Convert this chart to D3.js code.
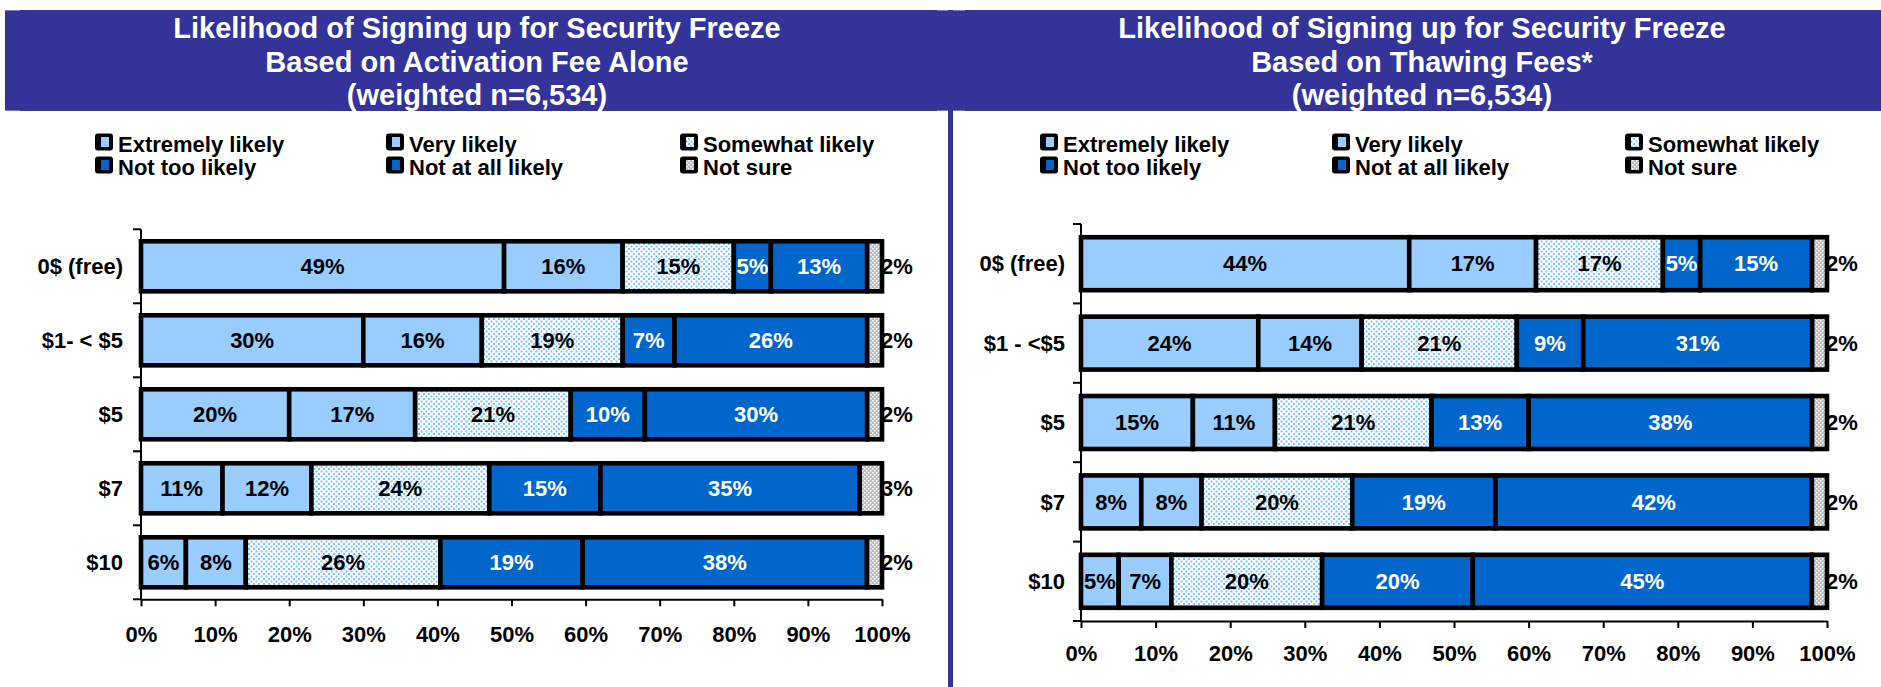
<!DOCTYPE html>
<html>
<head>
<meta charset="utf-8">
<script src="https://cdn.jsdelivr.net/npm/d3@7"></script>
<style>
  html, body { margin: 0; padding: 0; background: #fff; }
  svg { display: block; }
  text { font-family: "Liberation Sans", Arial, Helvetica, sans-serif; font-weight: bold; }
</style>
</head>
<body>
<svg id="chart" width="1881" height="687"></svg>
<script>
// ---- data ----
const feeCategoriesActivation = ["0$ (free)", "$1- < $5", "$5", "$7", "$10"];
const feeCategoriesThawing = ["0$ (free)", "$1 - <$5", "$5", "$7", "$10"];
const responses = ["Extremely likely", "Very likely", "Somewhat likely", "Not too likely", "Not at all likely", "Not sure"];

// percentages per fee level, in the order of `responses`
const activationValues = [
  [49, 16, 15, 5, 13, 2],
  [30, 16, 19, 7, 26, 2],
  [20, 17, 21, 10, 30, 2],
  [11, 12, 24, 15, 35, 3],
  [6, 8, 26, 19, 38, 2]
];
const thawingValues = [
  [44, 17, 17, 5, 15, 2],
  [24, 14, 21, 9, 31, 2],
  [15, 11, 21, 13, 38, 2],
  [8, 8, 20, 19, 42, 2],
  [5, 7, 20, 20, 45, 2]
];

const tickValues = [0, 0.1, 0.2, 0.3, 0.4, 0.5, 0.6, 0.7, 0.8, 0.9, 1];

const titleActivation = ["Likelihood of Signing up for Security Freeze", "Based on Activation Fee Alone", "(weighted n=6,534)"];
const titleThawing = ["Likelihood of Signing up for Security Freeze", "Based on Thawing Fees*", "(weighted n=6,534)"];

// ---- styling ----
const NAVY = "#333399";
const LIGHT_BLUE = "#99CCFF";
const DARK_BLUE = "#0066CC";

const svg = d3.select("#chart");
const defs = svg.append("defs");

// dotted fill for "Somewhat likely"
const dots = defs.append("pattern").attr("id", "blueDots")
  .attr("patternUnits", "userSpaceOnUse").attr("width", 5).attr("height", 5);
dots.append("rect").attr("width", 5).attr("height", 5).attr("fill", "#fff");
dots.append("rect").attr("x", 0.5).attr("y", 0.5).attr("width", 2).attr("height", 2).attr("fill", "#80BFFF");
dots.append("rect").attr("x", 3).attr("y", 3).attr("width", 2).attr("height", 2).attr("fill", "#80BFFF");

// speckled grey for "Not sure"
const grey = defs.append("pattern").attr("id", "greyDots")
  .attr("patternUnits", "userSpaceOnUse").attr("width", 4).attr("height", 4);
grey.append("rect").attr("width", 4).attr("height", 4).attr("fill", "#BDBDBD");
grey.append("rect").attr("x", 0).attr("y", 0).attr("width", 1.5).attr("height", 1.5).attr("fill", "#fff");
grey.append("rect").attr("x", 2).attr("y", 2).attr("width", 1.5).attr("height", 1.5).attr("fill", "#fff");

const fills = [LIGHT_BLUE, LIGHT_BLUE, "url(#blueDots)", DARK_BLUE, DARK_BLUE, "url(#greyDots)"];
const labelColors = ["#000", "#000", "#000", "#fff", "#fff", "#000"];

// ---- header band and divider ----
svg.append("rect").attr("x", 5).attr("y", 10).attr("width", 1876).attr("height", 101).attr("fill", NAVY);
svg.append("rect").attr("x", 948).attr("y", 10).attr("width", 5).attr("height", 677).attr("fill", NAVY);
[[5, 20], [937, 948], [953, 965]].forEach(([a, b]) => {
  [10.5, 110.5].forEach(yy => {
    svg.append("line").attr("x1", a).attr("x2", b).attr("y1", yy).attr("y2", yy)
      .attr("stroke", "#7C7CBC").attr("stroke-width", 1);
  });
});

const panels = [
  {
    cats: feeCategoriesActivation, values: activationValues, title: titleActivation,
    x0: 141, x1: 882, y0: 229.3, y1: 599.3, pad: 0.324,
    labelRight: 123, tickLabelDy: 42.4, titleCx: 477, legendX: [118, 409, 703]
  },
  {
    cats: feeCategoriesThawing, values: thawingValues, title: titleThawing,
    x0: 1081, x1: 1827, y0: 224, y1: 621, pad: 0.333,
    labelRight: 1065, tickLabelDy: 39.7, titleCx: 1422, legendX: [1063, 1355, 1648]
  }
];

panels.forEach(p => {
  const g = svg.append("g");

  // title
  const titleBaselines = [38, 71.5, 104.5];
  p.title.forEach((line, i) => {
    g.append("text").attr("x", p.titleCx).attr("y", titleBaselines[i])
      .attr("text-anchor", "middle").attr("fill", "#fff")
      .attr("font-size", 29).text(line);
  });

  // legend: three columns, two rows
  const legendBaselines = [152, 175];
  responses.forEach((r, i) => {
    const col = i % 3, row = Math.floor(i / 3);
    const tx = p.legendX[col], ty = legendBaselines[row];
    const sx = tx - 23, sy = ty - 18.5;
    g.append("rect").attr("x", sx).attr("y", sy).attr("width", 18).attr("height", 17)
      .attr("rx", 3).attr("fill", "#000");
    g.append("rect").attr("x", sx + 6).attr("y", sy + 3.5).attr("width", 8).attr("height", 10)
      .attr("fill", fills[i]);
    g.append("text").attr("x", tx).attr("y", ty).attr("font-size", 22).attr("fill", "#000").text(r);
  });

  // scales
  const x = d3.scaleLinear().domain([0, 1]).range([p.x0, p.x1]);
  const y = d3.scaleBand().domain(p.cats).range([p.y0, p.y1])
    .paddingInner(p.pad).paddingOuter(p.pad / 2);
  const gapHalf = (y.step() - y.bandwidth()) / 2;

  // x axis
  const xAxis = d3.axisBottom(x).tickValues(tickValues).tickSize(7).tickSizeOuter(0)
    .tickFormat(d3.format(".0%"));
  const ax = g.append("g").attr("transform", `translate(0,${p.y1})`).call(xAxis);
  ax.select(".domain").attr("stroke", "#000").attr("stroke-width", 2);
  ax.selectAll(".tick line").attr("stroke", "#000").attr("stroke-width", 2);
  ax.selectAll(".tick text").attr("y", p.tickLabelDy).attr("dy", null)
    .attr("font-size", 22).attr("fill", "#000")
    .attr("font-family", "'Liberation Sans', Arial, sans-serif").attr("font-weight", "bold");

  // y axis line and ticks at band boundaries
  g.append("line").attr("x1", p.x0).attr("x2", p.x0).attr("y1", p.y0).attr("y2", p.y1)
    .attr("stroke", "#000").attr("stroke-width", 2);
  const boundaries = p.cats.map(c => y(c) - gapHalf).concat([p.y1]);
  g.selectAll(".ytick").data(boundaries).enter().append("line")
    .attr("x1", p.x0 - 8).attr("x2", p.x0).attr("y1", d => d).attr("y2", d => d)
    .attr("stroke", "#000").attr("stroke-width", 2);

  // category labels
  g.selectAll(".cat").data(p.cats).enter().append("text")
    .attr("x", p.labelRight).attr("y", d => y(d) + y.bandwidth() / 2).attr("dy", "0.35em")
    .attr("text-anchor", "end").attr("font-size", 22).attr("fill", "#000").text(d => d);

  // stacked 100% segments
  const rows = p.values.map((vals, ri) => {
    const total = d3.sum(vals);
    let acc = 0;
    return vals.map((v, si) => {
      const start = acc / total;
      acc += v;
      return { cat: p.cats[ri], si, v, start, end: acc / total };
    });
  });

  // "Not sure" values sit just past the bar end (drawn first so the bar border overlaps them)
  rows.forEach(segs => {
    const s = segs[5];
    g.append("text").attr("x", x(1) - 1).attr("y", y(s.cat) + y.bandwidth() / 2).attr("dy", "0.35em")
      .attr("font-size", 22).attr("fill", "#000").text(s.v + "%");
  });

  rows.forEach(segs => {
    g.selectAll(null).data(segs).enter().append("rect")
      .attr("x", d => x(d.start)).attr("y", d => y(d.cat))
      .attr("width", d => x(d.end) - x(d.start)).attr("height", y.bandwidth())
      .attr("fill", d => fills[d.si]).attr("stroke", "#000").attr("stroke-width", 4.6);
  });

  rows.forEach(segs => {
    g.selectAll(null).data(segs.slice(0, 5)).enter().append("text")
      .attr("x", d => (x(d.start) + x(d.end)) / 2).attr("y", d => y(d.cat) + y.bandwidth() / 2)
      .attr("dy", "0.35em").attr("text-anchor", "middle").attr("font-size", 22)
      .attr("fill", d => labelColors[d.si]).text(d => d.v + "%");
  });
});
</script>
</body>
</html>
